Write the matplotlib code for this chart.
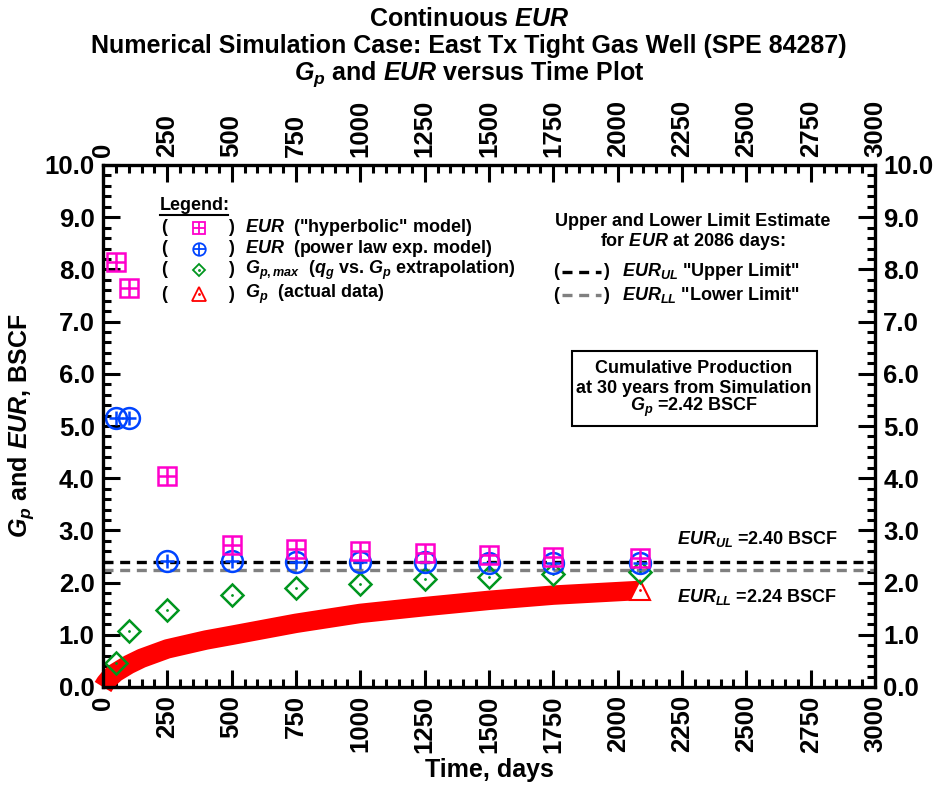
import matplotlib
matplotlib.use('Agg')
import matplotlib.pyplot as plt
from matplotlib.lines import Line2D
from matplotlib.patches import Rectangle
import numpy as np

plt.rcParams['font.family'] = 'Liberation Sans'
plt.rcParams['font.weight'] = 'bold'
plt.rcParams['mathtext.fontset'] = 'custom'
plt.rcParams['mathtext.rm'] = 'Liberation Sans:bold'
plt.rcParams['mathtext.it'] = 'Liberation Sans:italic:bold'
plt.rcParams['mathtext.bf'] = 'Liberation Sans:bold'

# EUR estimates at each evaluation time (days)
t_eval = [50, 100, 250, 500, 750, 1000, 1250, 1500, 1750, 2086]
eur_hyp = [8.15, 7.65, 4.05, 2.72, 2.64, 2.60, 2.57, 2.53, 2.50, 2.47]
eur_pow = [5.15, 5.15, 2.41, 2.41, 2.40, 2.40, 2.39, 2.38, 2.38, 2.38]
gp_max = [0.46, 1.08, 1.47, 1.77, 1.90, 1.98, 2.06, 2.11, 2.16, 2.21]

# cumulative production, actual data
t_gp = [0, 10, 25, 50, 100, 150, 250, 400, 500, 750, 1000, 1250, 1500, 1750, 2086]
gp = [0.0, 0.08, 0.17, 0.28, 0.43, 0.55, 0.73, 0.90, 0.99, 1.22, 1.41, 1.54, 1.66, 1.76, 1.85]

eur_ul = 2.40
eur_ll = 2.24

magenta = '#ff00cc'
blue = '#0044ff'
green = '#00961e'
red = '#ff0000'

W, H = 938, 786
fig = plt.figure(figsize=(W / 100, H / 100), dpi=100)
ax = fig.add_axes([103 / W, 1 - 687 / H, 772 / W, 522 / H])


def fp(x, y):
    # pixel position -> figure fraction
    return x / W, 1 - y / H


# Gp band
ax.plot(t_gp, gp, color=red, lw=14, solid_capstyle='butt', zorder=2, clip_on=False)
ax.plot(t_gp[-1], gp[-1], marker='^', ms=14, mfc='white', mec=red, mew=1.5, ls='none', zorder=3)
ax.plot(t_gp[-1], gp[-1], marker='.', ms=2, color=red, ls='none', zorder=3)

# limit lines
ax.axhline(eur_ul, color='black', lw=2.4, ls=(0, (3, 2)), zorder=4)
ax.axhline(eur_ll, color='#808080', lw=2.4, ls=(0, (3, 2)), zorder=4)

# Gp,max diamonds
ax.plot(t_eval, gp_max, marker='D', ms=11, mfc='none', mec=green, mew=1.8, ls='none', zorder=5)
ax.plot(t_eval, gp_max, marker='.', ms=2, color=green, ls='none', zorder=5)
# power law EUR circles
ax.plot(t_eval, eur_pow, marker='o', ms=15, mfc='none', mec=blue, mew=1.8, ls='none', zorder=6)
ax.plot(t_eval, eur_pow, marker='+', ms=10, mec=blue, mew=1.8, ls='none', zorder=6)
# hyperbolic EUR squares
ax.plot(t_eval, eur_hyp, marker='s', ms=13, mfc='none', mec=magenta, mew=1.8, ls='none', zorder=7)
ax.plot(t_eval, eur_hyp, marker='+', ms=13, mec=magenta, mew=1.8, ls='none', zorder=7)

ax.set_xlim(0, 3000)
ax.set_ylim(0, 10)
ax.set_xticks(np.arange(0, 3001, 250))
ax.set_xticks(np.arange(0, 3001, 50), minor=True)
ax.set_yticks(np.arange(0, 10.01, 1.0))
ax.set_yticks(np.arange(0, 10.01, 0.2), minor=True)
ax.set_yticklabels(['%.1f' % v for v in np.arange(0, 10.01, 1.0)])
ax.tick_params(which='both', direction='in', top=True, right=True,
               labeltop=True, labelright=True, labelsize=18.5, width=2.2)
ax.tick_params(which='major', length=12, pad=6)
ax.tick_params(which='minor', length=6)
ax.tick_params(axis='x', labelrotation=90)
for s in ax.spines.values():
    s.set_linewidth(2.4)
    s.set_zorder(8)

ax.set_xlabel('Time, days', fontsize=18, fontweight='bold', labelpad=4)
ax.set_ylabel('$G_p$ and $EUR$, BSCF', fontsize=18, fontweight='bold', labelpad=6)

# title
tfs = 18
fig.text(*fp(469, 19), 'Continuous $EUR$', ha='center', va='center', fontsize=tfs)
fig.text(*fp(469, 46), 'Numerical Simulation Case: East Tx Tight Gas Well (SPE 84287)',
         ha='center', va='center', fontsize=tfs)
fig.text(*fp(469, 74), '$G_p$ and $EUR$ versus Time Plot', ha='center', va='center', fontsize=tfs)

# legend block
fs = 13
fig.text(*fp(160, 205), 'Legend:', ha='left', va='center', fontsize=fs)
fig.add_artist(Line2D([160 / W, 228 / W], [1 - 215 / H] * 2, color='black', lw=1.5))
rows = [
    (228, magenta, 's', '$EUR$  ("hyperbolic" model)'),
    (249, blue, 'o', '$EUR$  (power law exp. model)'),
    (270, green, 'D', '$G_{p,max}$  ($q_g$ vs. $G_p$ extrapolation)'),
    (294, red, '^', '$G_p$  (actual data)'),
]
for y, c, m, label in rows:
    fig.text(*fp(164, y), '(', ha='center', va='center', fontsize=fs)
    fig.text(*fp(231, y), ')', ha='center', va='center', fontsize=fs)
    fig.text(*fp(245, y), label, ha='left', va='center', fontsize=fs)
    mx, my = fp(199, y)
    ms = {'s': 8, 'o': 9, 'D': 6.5, '^': 10}[m]
    fig.add_artist(Line2D([mx], [my], marker=m, ms=ms, mfc='none', mec=c, mew=1.3, ls='none'))
    inner = {'s': '+', 'o': '+', 'D': '.', '^': '.'}[m]
    fig.add_artist(Line2D([mx], [my], marker=inner, ms=ms if inner == '+' else 1.5,
                          mec=c, color=c, mew=1.3, ls='none'))

# limit legend
fig.text(*fp(693, 221), 'Upper and Lower Limit Estimate', ha='center', va='center', fontsize=fs)
fig.text(*fp(693, 242), 'for $EUR$ at 2086 days:', ha='center', va='center', fontsize=fs)
for y, c, label in [(272, 'black', '$EUR_{UL}$ "Upper Limit"'),
                    (295, '#808080', '$EUR_{LL}$ "Lower Limit"')]:
    fig.text(*fp(556, y), '(', ha='center', va='center', fontsize=fs)
    fig.text(*fp(606, y), ')', ha='center', va='center', fontsize=fs)
    fig.add_artist(Line2D([562 / W, 601 / W], [1 - y / H] * 2, color=c, lw=2.4, ls=(0, (3, 2))))
    fig.text(*fp(622, y), label, ha='left', va='center', fontsize=fs)

# simulation box
fig.add_artist(Rectangle(fp(572, 426), 245 / W, 75 / H, fill=False, ec='black', lw=1.5))
fig.text(*fp(694, 369), 'Cumulative Production', ha='center', va='center', fontsize=fs)
fig.text(*fp(694, 388), 'at 30 years from Simulation', ha='center', va='center', fontsize=fs)
fig.text(*fp(694, 407), '$G_p$ =2.42 BSCF', ha='center', va='center', fontsize=fs)

# limit values
ax.text(2230, 2.83, '$EUR_{UL}$ =2.40 BSCF', ha='left', va='center', fontsize=fs)
ax.text(2230, 1.73, '$EUR_{LL}$ =2.24 BSCF', ha='left', va='center', fontsize=fs)

fig.savefig('out.png', dpi=100)
